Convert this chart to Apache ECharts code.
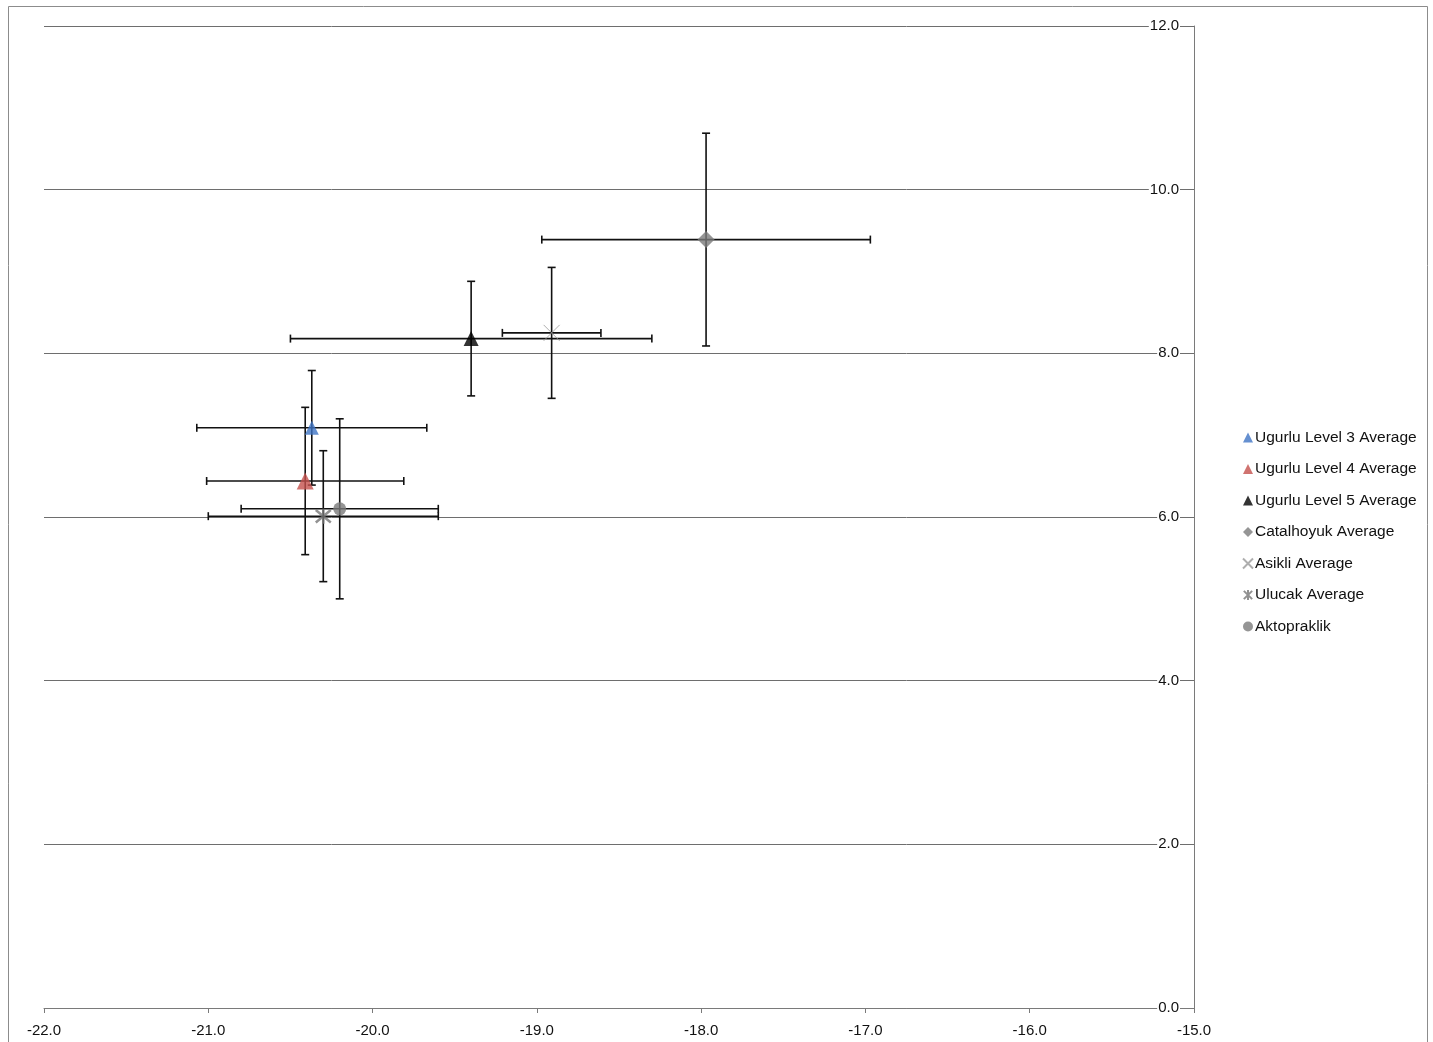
<!DOCTYPE html>
<html>
<head>
<meta charset="utf-8">
<script src="https://cdn.jsdelivr.net/npm/echarts@6/dist/echarts.min.js"></script>
<style>
  html, body { margin: 0; padding: 0; background: #fff; }
  #chart { width: 1433px; height: 1042px; }
</style>
</head>
<body>
<div id="chart"></div>
<script>
// Site averages (δ13C on x, δ15N on y) with ±1 SD error bars
const seriesNames = [
  'Ugurlu Level 3 Average',
  'Ugurlu Level 4 Average',
  'Ugurlu Level 5 Average',
  'Catalhoyuk Average',
  'Asikli Average',
  'Ulucak Average',
  'Aktopraklik'
];
const xMeans = [-20.37, -20.41, -19.40, -17.97, -18.91, -20.30, -20.20];
const yMeans = [7.09, 6.44, 8.18, 9.39, 8.25, 6.01, 6.10];
const xErr   = [0.70, 0.60, 1.10, 1.00, 0.30, 0.70, 0.60];
const yErr   = [0.70, 0.90, 0.70, 1.30, 0.80, 0.80, 1.10];

const xTicks = { min: -22, max: -15, step: 1 };
const yTicks = { min: 0, max: 12, step: 2 };

// Marker look per series
const markerStyles = [
  { symbol: 'triangle', size: 14, item: { color: '#3f74c4' } },
  { symbol: 'triangle', size: 17, item: { color: '#c4504c' } },
  { symbol: 'triangle', size: 15, item: { color: '#000000' } },
  { symbol: 'diamond', size: 17, item: { color: '#7a7a7a' } },
  { symbol: 'path://M0,0L10,10M10,0L0,10', size: 16,
    item: { color: 'rgba(0,0,0,0)', borderColor: '#9a9a9a', borderWidth: 1 } },
  { symbol: 'path://M0,0L10,10M10,0L0,10M5,-1L5,11', size: 15,
    item: { color: 'rgba(0,0,0,0)', borderColor: '#777777', borderWidth: 2.5 } },
  { symbol: 'circle', size: 13, item: { color: '#7a7a7a' } }
];

const errorData = seriesNames.map((n, i) => [xMeans[i], yMeans[i], xErr[i], yErr[i]]);

function renderErrorBar(params, api) {
  const x = api.value(0), y = api.value(1), ex = api.value(2), ey = api.value(3);
  const l = api.coord([x - ex, y]);
  const r = api.coord([x + ex, y]);
  const t = api.coord([x, y + ey]);
  const b = api.coord([x, y - ey]);
  const cap = 4;
  const style = { stroke: '#111', lineWidth: 1.6 };
  const line = (x1, y1, x2, y2) => ({ type: 'line', shape: { x1, y1, x2, y2 }, style });
  return {
    type: 'group',
    children: [
      line(l[0], l[1], r[0], r[1]),
      line(l[0], l[1] - cap, l[0], l[1] + cap),
      line(r[0], r[1] - cap, r[0], r[1] + cap),
      line(t[0], t[1], b[0], b[1]),
      line(t[0] - cap, t[1], t[0] + cap, t[1]),
      line(b[0] - cap, b[1], b[0] + cap, b[1])
    ]
  };
}

const chart = echarts.init(document.getElementById('chart'), null, { renderer: 'canvas' });

const labelFont = { fontFamily: 'Liberation Sans', fontSize: 15, color: '#111' };

chart.setOption({
  animation: false,
  backgroundColor: '#fff',
  textStyle: { fontFamily: 'Liberation Sans' },
  graphic: [{
    type: 'rect',
    shape: { x: 8.5, y: 6.5, width: 1419, height: 1050 },
    style: { fill: 'none', stroke: '#8c8c8c', lineWidth: 1 },
    silent: true,
    z: -1
  }],
  grid: { left: 44, right: 239, top: 26, bottom: 34 },
  legend: {
    orient: 'vertical',
    left: 1237,
    top: 424,
    itemWidth: 10,
    itemHeight: 10,
    itemGap: 14.5,
    data: seriesNames,
    textStyle: { fontFamily: 'Liberation Sans', fontSize: 15.5, color: '#111', lineHeight: 17, padding: [0, 0, 0, -3] }
  },
  xAxis: {
    type: 'value',
    min: xTicks.min,
    max: xTicks.max,
    interval: xTicks.step,
    axisLine: { show: true, onZero: false, lineStyle: { color: '#7a7a7a', width: 1 } },
    axisTick: { show: true, length: 5, lineStyle: { color: '#7a7a7a' } },
    axisLabel: Object.assign({ margin: 15, formatter: v => v.toFixed(1) }, labelFont),
    splitLine: { show: false }
  },
  yAxis: {
    type: 'value',
    position: 'right',
    min: yTicks.min,
    max: yTicks.max,
    interval: yTicks.step,
    axisLine: { show: true, onZero: false, lineStyle: { color: '#7a7a7a', width: 1 } },
    axisTick: { show: false },
    axisLabel: Object.assign({
      inside: true,
      margin: 14,
      backgroundColor: '#fff',
      padding: [0, 1],
      formatter: v => v.toFixed(1)
    }, labelFont),
    splitLine: { show: true, lineStyle: { color: '#6e6e6e', width: 1 } }
  },
  series: [
    {
      name: 'error bars',
      type: 'custom',
      renderItem: renderErrorBar,
      encode: { x: 0, y: 1 },
      data: errorData,
      z: 2,
      silent: true
    }
  ].concat(seriesNames.map((name, i) => ({
    name: name,
    type: 'scatter',
    symbol: markerStyles[i].symbol,
    symbolSize: markerStyles[i].size,
    itemStyle: markerStyles[i].item,
    data: [[xMeans[i], yMeans[i]]],
    z: 3
  })))
});
</script>
</body>
</html>
